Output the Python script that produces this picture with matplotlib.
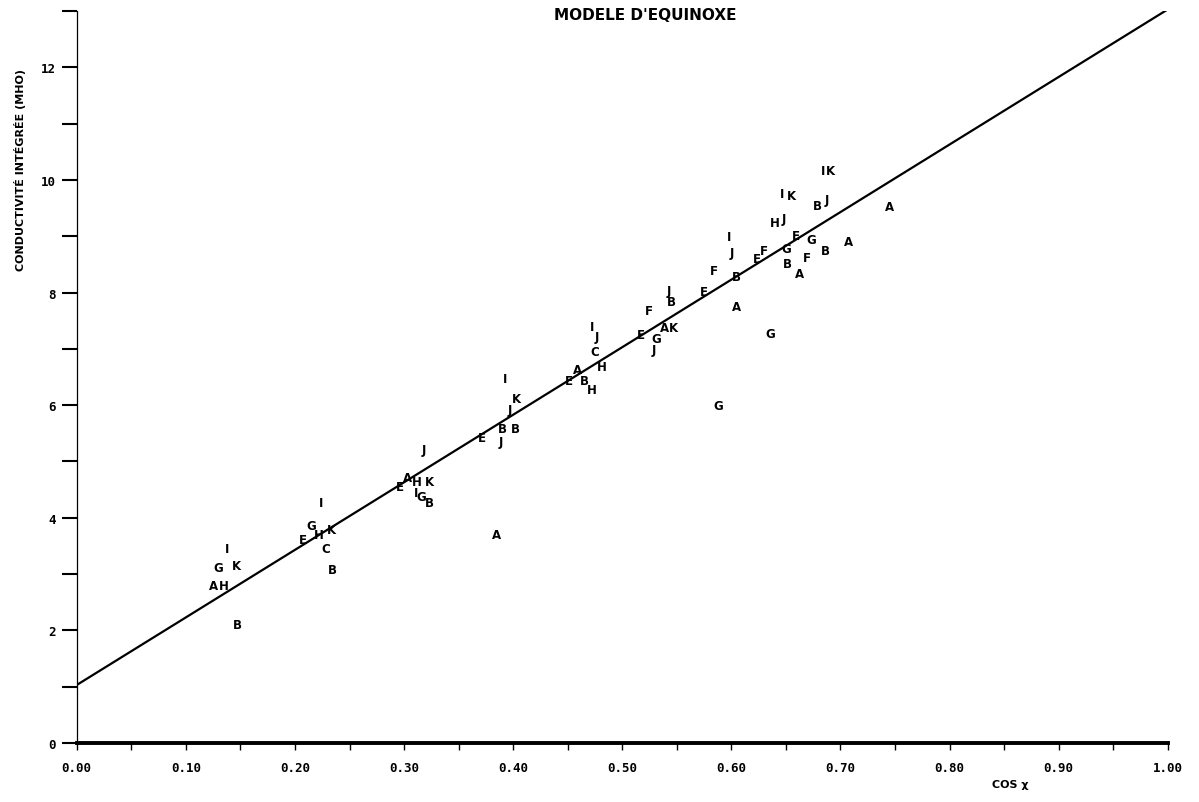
import numpy as np
import matplotlib
matplotlib.use('Agg')
from matplotlib import pyplot as plt
from matplotlib.ticker import MultipleLocator

# letters marking each observation
labels = ['I', 'K', 'G', 'A', 'H', 'B',
          'I', 'E', 'G', 'H', 'K', 'C', 'B',
          'J', 'E', 'A', 'H', 'K', 'I', 'G', 'B', 'A',
          'I', 'K', 'J', 'E', 'B', 'B', 'J',
          'E', 'A', 'H', 'B', 'I', 'J', 'C', 'H',
          'F', 'E', 'G', 'J', 'A', 'K', 'J', 'B',
          'E', 'F', 'B', 'A', 'I', 'J', 'E', 'F', 'G', 'G',
          'I', 'K', 'H', 'J', 'G', 'B', 'E', 'G', 'A', 'F', 'B', 'A',
          'I', 'K', 'B', 'J', 'A']
cos_x = [0.138, 0.146, 0.130, 0.125, 0.135, 0.147,
         0.224, 0.207, 0.215, 0.222, 0.233, 0.228, 0.234,
         0.318, 0.296, 0.303, 0.312, 0.323, 0.311, 0.316, 0.323, 0.385,
         0.393, 0.403, 0.397, 0.371, 0.390, 0.402, 0.389,
         0.451, 0.459, 0.472, 0.465, 0.472, 0.477, 0.475, 0.481,
         0.524, 0.517, 0.531, 0.529, 0.539, 0.547, 0.543, 0.545,
         0.575, 0.584, 0.605, 0.605, 0.598, 0.600, 0.623, 0.630, 0.636, 0.588,
         0.646, 0.655, 0.640, 0.648, 0.650, 0.651, 0.659, 0.673, 0.662, 0.669, 0.686, 0.707,
         0.684, 0.691, 0.679, 0.687, 0.745]
conductance = [3.45, 3.16, 3.11, 2.79, 2.79, 2.10,
               4.28, 3.62, 3.87, 3.70, 3.80, 3.45, 3.09,
               5.22, 4.55, 4.71, 4.65, 4.64, 4.45, 4.38, 4.28, 3.71,
               6.47, 6.12, 5.93, 5.43, 5.58, 5.58, 5.35,
               6.44, 6.64, 6.27, 6.43, 7.40, 7.22, 6.96, 6.68,
               7.69, 7.26, 7.19, 6.98, 7.38, 7.38, 8.03, 7.84,
               8.01, 8.40, 8.28, 7.76, 9.00, 8.72, 8.60, 8.75, 7.28, 6.00,
               9.76, 9.72, 9.24, 9.31, 8.79, 8.52, 9.02, 8.95, 8.33, 8.63, 8.74, 8.90,
               10.16, 10.16, 9.54, 9.66, 9.52]

# fitted model line
fit_intercept = 1.03
fit_slope = 12.0

fig = plt.figure(figsize=(11.99, 8.03), dpi=100)
ax = fig.add_axes([0.064, 0.0735, 0.910, 0.9115])

xs = np.array([0.0, 1.0])
ax.plot(xs, fit_intercept + fit_slope * xs, color='black', lw=1.6)

for lab, xv, yv in zip(labels, cos_x, conductance):
    ax.text(xv, yv, lab, ha='center', va='center', fontsize=8.5,
            fontweight='bold', family='DejaVu Sans')

ax.set_xlim(0, 1.0)
ax.set_ylim(0, 13)

ax.spines['top'].set_visible(False)
ax.spines['right'].set_visible(False)
ax.spines['bottom'].set_linewidth(2.8)
ax.spines['left'].set_linewidth(0.9)

ax.xaxis.set_major_locator(MultipleLocator(0.1))
ax.xaxis.set_minor_locator(MultipleLocator(0.05))
ax.yaxis.set_major_locator(MultipleLocator(2))
ax.yaxis.set_minor_locator(MultipleLocator(1))
ax.set_xticklabels(['%.2f' % v for v in ax.get_xticks()])
ax.tick_params(axis='x', which='both', direction='out', length=5, width=1,
               labelsize=9, pad=8)
ax.tick_params(axis='y', which='both', direction='out', length=11, width=1.5,
               labelsize=9, pad=4)
for t in ax.get_xticklabels() + ax.get_yticklabels():
    t.set_family('DejaVu Sans Mono')
    t.set_fontweight('bold')

fig.text(645 / 1199, 1 - 15 / 803, "MODELE D'EQUINOXE", ha='center', va='center',
         fontsize=11, fontweight='bold')
fig.text(20 / 1199, 1 - 170 / 803, 'CONDUCTIVITÉ INTÉGRÉE (MHO)', rotation=90,
         ha='center', va='center', fontsize=8, fontweight='bold')
fig.text(1010 / 1199, 1 - 785 / 803, 'COS χ', ha='center', va='center',
         fontsize=8, fontweight='bold')

fig.savefig('out.png', dpi=100)
